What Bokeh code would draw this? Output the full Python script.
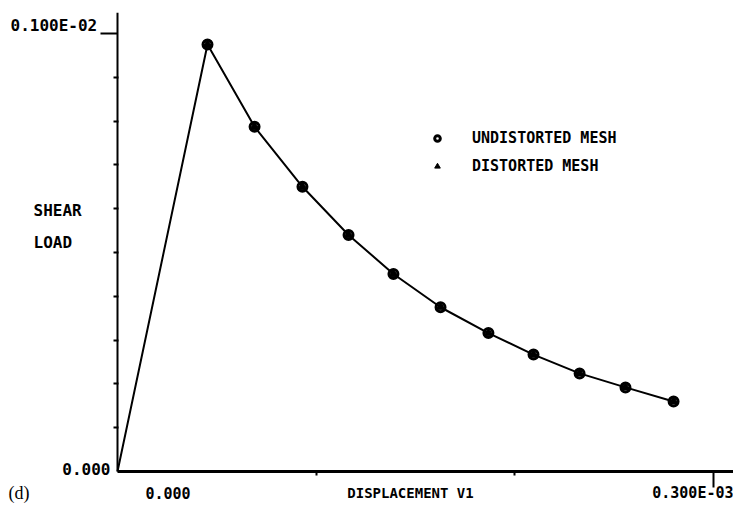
from bokeh.plotting import figure
from bokeh.models import Range1d, FixedTicker, Label, Legend, LegendItem, LinearAxis
from bokeh.embed import file_html
from bokeh.resources import INLINE

# ---- data ----
displacement = [0.0, 0.0000453, 0.0000690, 0.0000931, 0.0001163, 0.0001389,
                0.0001626, 0.0001867, 0.0002094, 0.0002326, 0.0002557, 0.0002799]
shear_load = [0.0, 0.000975, 0.000787, 0.000650, 0.000540, 0.000451,
              0.000375, 0.000316, 0.000267, 0.000224, 0.000192, 0.000160]
legend_labels = ["UNDISTORTED MESH", "DISTORTED MESH"]
x_tick_labels = ["0.000", "0.300E-03"]
y_tick_labels = ["0.000", "0.100E-02"]
x_major = [0.0003]
x_minor = [0.0001, 0.0002]
y_major = [0.001]
y_minor = [0.0001, 0.0002, 0.0003, 0.0004, 0.0005, 0.0006, 0.0007, 0.0008, 0.0009]
x_label = "DISPLACEMENT V1"
y_label = ["SHEAR", "LOAD"]
panel_tag = "(d)"

# ---- layout helpers (picture pixel -> data) ----
W, H = 733, 513
PX0, PX3, PY0, PY1 = 117, 713, 471, 33
def dx(px):
    return (px - PX0) * 0.0003 / (PX3 - PX0)
def dy(py):
    return (PY0 - py) * 0.001 / (PY0 - PY1)

TOP = 12
FONT = "DejaVu Sans Mono"

p = figure(width=W, height=H, output_backend="svg", toolbar_location=None,
           x_axis_location=None, y_axis_location=None,
           x_range=Range1d(dx(0), dx(W)), y_range=Range1d(dy(H), dy(TOP)),
           min_border_left=0, min_border_right=0,
           min_border_top=TOP, min_border_bottom=0)
p.outline_line_color = None
p.xgrid.visible = False
p.ygrid.visible = False
p.background_fill_color = "white"
p.border_fill_color = "white"

# axes drawn at the data origin
xax = LinearAxis(fixed_location=0, bounds=(0, dx(W)),
                 ticker=FixedTicker(ticks=x_major, minor_ticks=x_minor))
yax = LinearAxis(fixed_location=0, bounds=(0, dy(TOP)),
                 ticker=FixedTicker(ticks=y_major, minor_ticks=y_minor))
for ax in (xax, yax):
    ax.axis_line_color = "black"
    ax.major_tick_line_color = "black"
    ax.minor_tick_line_color = "black"
    ax.major_tick_line_width = 2
    ax.minor_tick_line_width = 2
    ax.major_tick_out = 0
    ax.minor_tick_out = 1
    ax.minor_tick_in = 4
    ax.major_label_text_font_size = "0px"
    ax.major_label_text_color = None
    ax.major_label_standoff = 0
    ax.axis_label_standoff = 0
xax.axis_line_width = 3
yax.axis_line_width = 2
xax.major_tick_in = 16
yax.major_tick_in = 17
p.add_layout(xax, "above")
p.add_layout(yax, "right")

# curve and markers
p.line(displacement, shear_load, line_color="black", line_width=2)
r_circ = p.scatter(displacement[1:], shear_load[1:], marker="circle", size=9,
                   fill_color=None, line_color="black", line_width=3)
r_tri = p.scatter(displacement[1:], shear_load[1:], marker="triangle", size=9,
                  fill_color="black", line_color="black", line_width=1)

legend = Legend(items=[LegendItem(label=legend_labels[0], renderers=[r_circ]),
                       LegendItem(label=legend_labels[1], renderers=[r_tri])],
                location=(430, H - 176), orientation="vertical",
                border_line_color=None, background_fill_alpha=0,
                padding=0, margin=0, spacing=8, glyph_width=14, glyph_height=20,
                label_height=20, label_standoff=28,
                label_text_font=FONT, label_text_font_style="bold",
                label_text_font_size="15px", label_text_color="black")
p.add_layout(legend)

def lab(x, y, text, align="left", font=FONT, size="16px", style="bold"):
    p.add_layout(Label(x=x, y=y, text=text, text_align=align, text_baseline="middle",
                       text_font=font, text_font_size=size, text_font_style=style,
                       text_color="black"))

lab(dx(10), dy(25), y_tick_labels[1])
lab(dx(110), dy(468), y_tick_labels[0], align="right")
lab(dx(145), dy(492), x_tick_labels[0], size="15px")
lab(dx(733), dy(492), x_tick_labels[1], align="right", size="15px")
lab(dx(410), dy(492), x_label, align="center", size="14px")
lab(dx(33), dy(210), y_label[0])
lab(dx(33), dy(242), y_label[1])
lab(dx(8), dy(492), panel_tag, font="Liberation Serif", size="18px", style="normal")

open("out.html", "w").write(file_html(p, INLINE))
